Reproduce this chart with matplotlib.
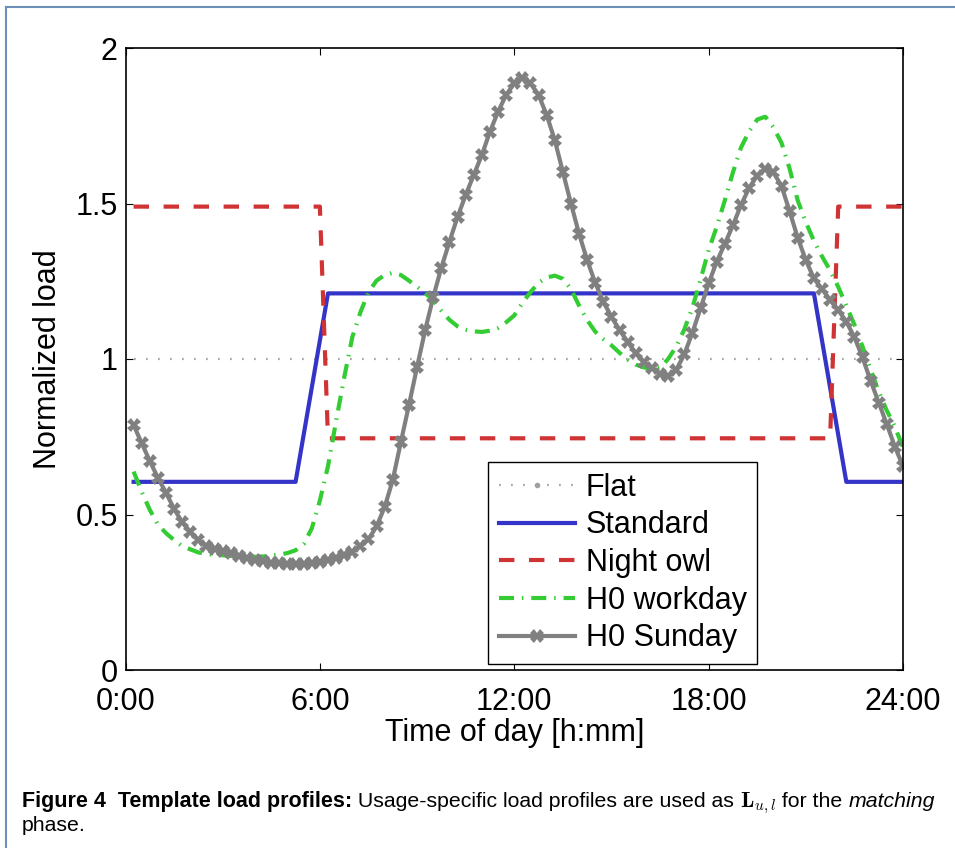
import numpy as np
import matplotlib
matplotlib.use("Agg")
import matplotlib.pyplot as plt
from matplotlib.lines import Line2D

plt.rcParams["font.family"] = ["Liberation Sans", "DejaVu Sans"]
plt.rcParams["mathtext.fontset"] = "cm"

# quarter-hour time stamps 0:15 ... 24:00
hours = np.arange(1, 97) * 0.25

flat_t = [0.25, 24.0]
flat_v = [1.0, 1.0]

std_t = [0.25, 5.25, 6.25, 21.25, 22.25, 24.0]
std_v = [0.605, 0.605, 1.211, 1.211, 0.605, 0.605]

owl_t = [0.25, 6.0, 6.25, 21.75, 22.0, 24.0]
owl_v = [1.49, 1.49, 0.745, 0.745, 1.49, 1.49]

h0_workday = [
    0.638, 0.573, 0.515, 0.468, 0.440, 0.418, 0.398, 0.388,
    0.378, 0.373, 0.371, 0.369, 0.367, 0.365, 0.364, 0.364,
    0.365, 0.368, 0.371, 0.376, 0.385, 0.405, 0.455, 0.545,
    0.655, 0.800, 0.940, 1.070, 1.150, 1.215, 1.252, 1.270,
    1.277, 1.270, 1.252, 1.232, 1.212, 1.188, 1.155, 1.126,
    1.105, 1.094, 1.089, 1.087, 1.091, 1.100, 1.118, 1.140,
    1.180, 1.215, 1.245, 1.262, 1.268, 1.258, 1.225, 1.172,
    1.125, 1.088, 1.064, 1.044, 1.020, 0.998, 0.982, 0.973,
    0.969, 0.972, 1.000, 1.040, 1.095, 1.165, 1.255, 1.350,
    1.425, 1.510, 1.600, 1.680, 1.732, 1.770, 1.779, 1.745,
    1.695, 1.612, 1.510, 1.440, 1.380, 1.330, 1.285, 1.232,
    1.172, 1.110, 1.040, 0.966, 0.895, 0.834, 0.782, 0.715,
]

h0_sunday = [
    0.788, 0.729, 0.672, 0.618, 0.570, 0.518, 0.475, 0.445,
    0.418, 0.400, 0.389, 0.382, 0.375, 0.367, 0.360, 0.354,
    0.349, 0.345, 0.343, 0.341, 0.341, 0.342, 0.344, 0.347,
    0.353, 0.361, 0.370, 0.381, 0.398, 0.420, 0.462, 0.524,
    0.611, 0.733, 0.852, 0.974, 1.093, 1.199, 1.294, 1.377,
    1.457, 1.527, 1.592, 1.656, 1.731, 1.795, 1.849, 1.886,
    1.903, 1.886, 1.849, 1.785, 1.704, 1.602, 1.500, 1.403,
    1.318, 1.245, 1.184, 1.136, 1.093, 1.055, 1.018, 0.990,
    0.972, 0.952, 0.945, 0.965, 1.015, 1.085, 1.163, 1.243,
    1.313, 1.370, 1.430, 1.495, 1.550, 1.590, 1.612, 1.600,
    1.556, 1.475, 1.390, 1.318, 1.259, 1.225, 1.190, 1.158,
    1.120, 1.070, 1.005, 0.930, 0.860, 0.790, 0.718, 0.655,
]

labels = ["Flat", "Standard", "Night owl", "H0 workday", "H0 Sunday"]
xtick_pos = [0, 6, 12, 18, 24]
xtick_lab = ["0:00", "6:00", "12:00", "18:00", "24:00"]
ytick_pos = [0, 0.5, 1, 1.5, 2]
ytick_lab = ["0", "0.5", "1", "1.5", "2"]

W, H = 955, 848
fig = plt.figure(figsize=(W / 100, H / 100), dpi=100)
ax = fig.add_axes([125.5 / W, 1 - 670 / H, 777.5 / W, 622 / H])

flat_style = dict(color="#a8a8a8", lw=1.6, ls=(0, (0.8, 4.6)))
ax.plot(flat_t, flat_v, **flat_style)
l_std, = ax.plot(std_t, std_v, color="#3434c8", lw=3)
l_owl, = ax.plot(owl_t, owl_v, color="#cf3333", lw=3, ls=(0, (3.7, 3.5)))
l_wd, = ax.plot(hours, h0_workday, color="#33cc33", lw=3,
                ls=(0, (3.6, 1.9, 0.35, 1.9)))
l_su, = ax.plot(hours, h0_sunday, color="#808080", lw=3,
                marker="X", ms=10, mew=0)

flat_proxy = Line2D([], [], marker=".", ms=6, mfc="#a0a0a0", mec="#a0a0a0", **flat_style)

ax.set_xlim(0, 24)
ax.set_ylim(0, 2)
ax.set_xticks(xtick_pos)
ax.set_xticklabels(xtick_lab)
ax.set_yticks(ytick_pos)
ax.set_yticklabels(ytick_lab)
ax.tick_params(direction="in", length=5, width=0.8, top=True, right=True,
               labelsize=22)
ax.tick_params(axis="x", pad=12)
ax.tick_params(axis="y", pad=5.5)
for s in ax.spines.values():
    s.set_linewidth(1.2)

ax.set_ylabel("Normalized load", fontsize=22)
ax.yaxis.set_label_coords(-0.0804, 0.5)
ax.set_xlabel("Time of day [h:mm]", fontsize=22)
ax.xaxis.set_label_coords(0.5, -0.077)

leg = ax.legend([flat_proxy, l_std, l_owl, l_wd, l_su], labels,
                loc="lower left", bbox_to_anchor=(0.466, 0.0096),
                fontsize=22, fancybox=False, edgecolor="black", framealpha=1,
                borderpad=0.35, labelspacing=0.25, handlelength=2.5,
                handletextpad=0.35, borderaxespad=0, numpoints=1)
leg.get_frame().set_linewidth(1.0)

# frame of the figure box (top and left edges)
frame_c = "#6d8fb8"
fig.add_artist(Line2D([6 / W, 1], [1 - 7 / H] * 2, transform=fig.transFigure,
                      color=frame_c, lw=1.5))
fig.add_artist(Line2D([6 / W] * 2, [0, 1 - 7 / H], transform=fig.transFigure,
                      color=frame_c, lw=1.5))

# caption
renderer = fig.canvas.get_renderer()


def caption_line(pieces, x_px, base_px):
    x = x_px
    for s, kw in pieces:
        t = fig.text(x / W, 1 - base_px / H, s, va="baseline", ha="left", **kw)
        x += t.get_window_extent(renderer).width


cap = dict(fontsize=15.3, family=["Liberation Sans Narrow", "Liberation Sans"])
capb = dict(cap, fontweight="bold", fontsize=15.5)
caption_line([
    ("Figure 4  Template load profiles:", capb),
    (" Usage-specific load profiles are used as ", cap),
    (r"$\mathbf{L}_{u,l}$", dict(fontsize=16)),
    (" for the ", cap),
    ("matching", dict(cap, style="italic")),
], 22, 807)
caption_line([("phase.", cap)], 22, 831)

fig.savefig("out.png", dpi=100)
